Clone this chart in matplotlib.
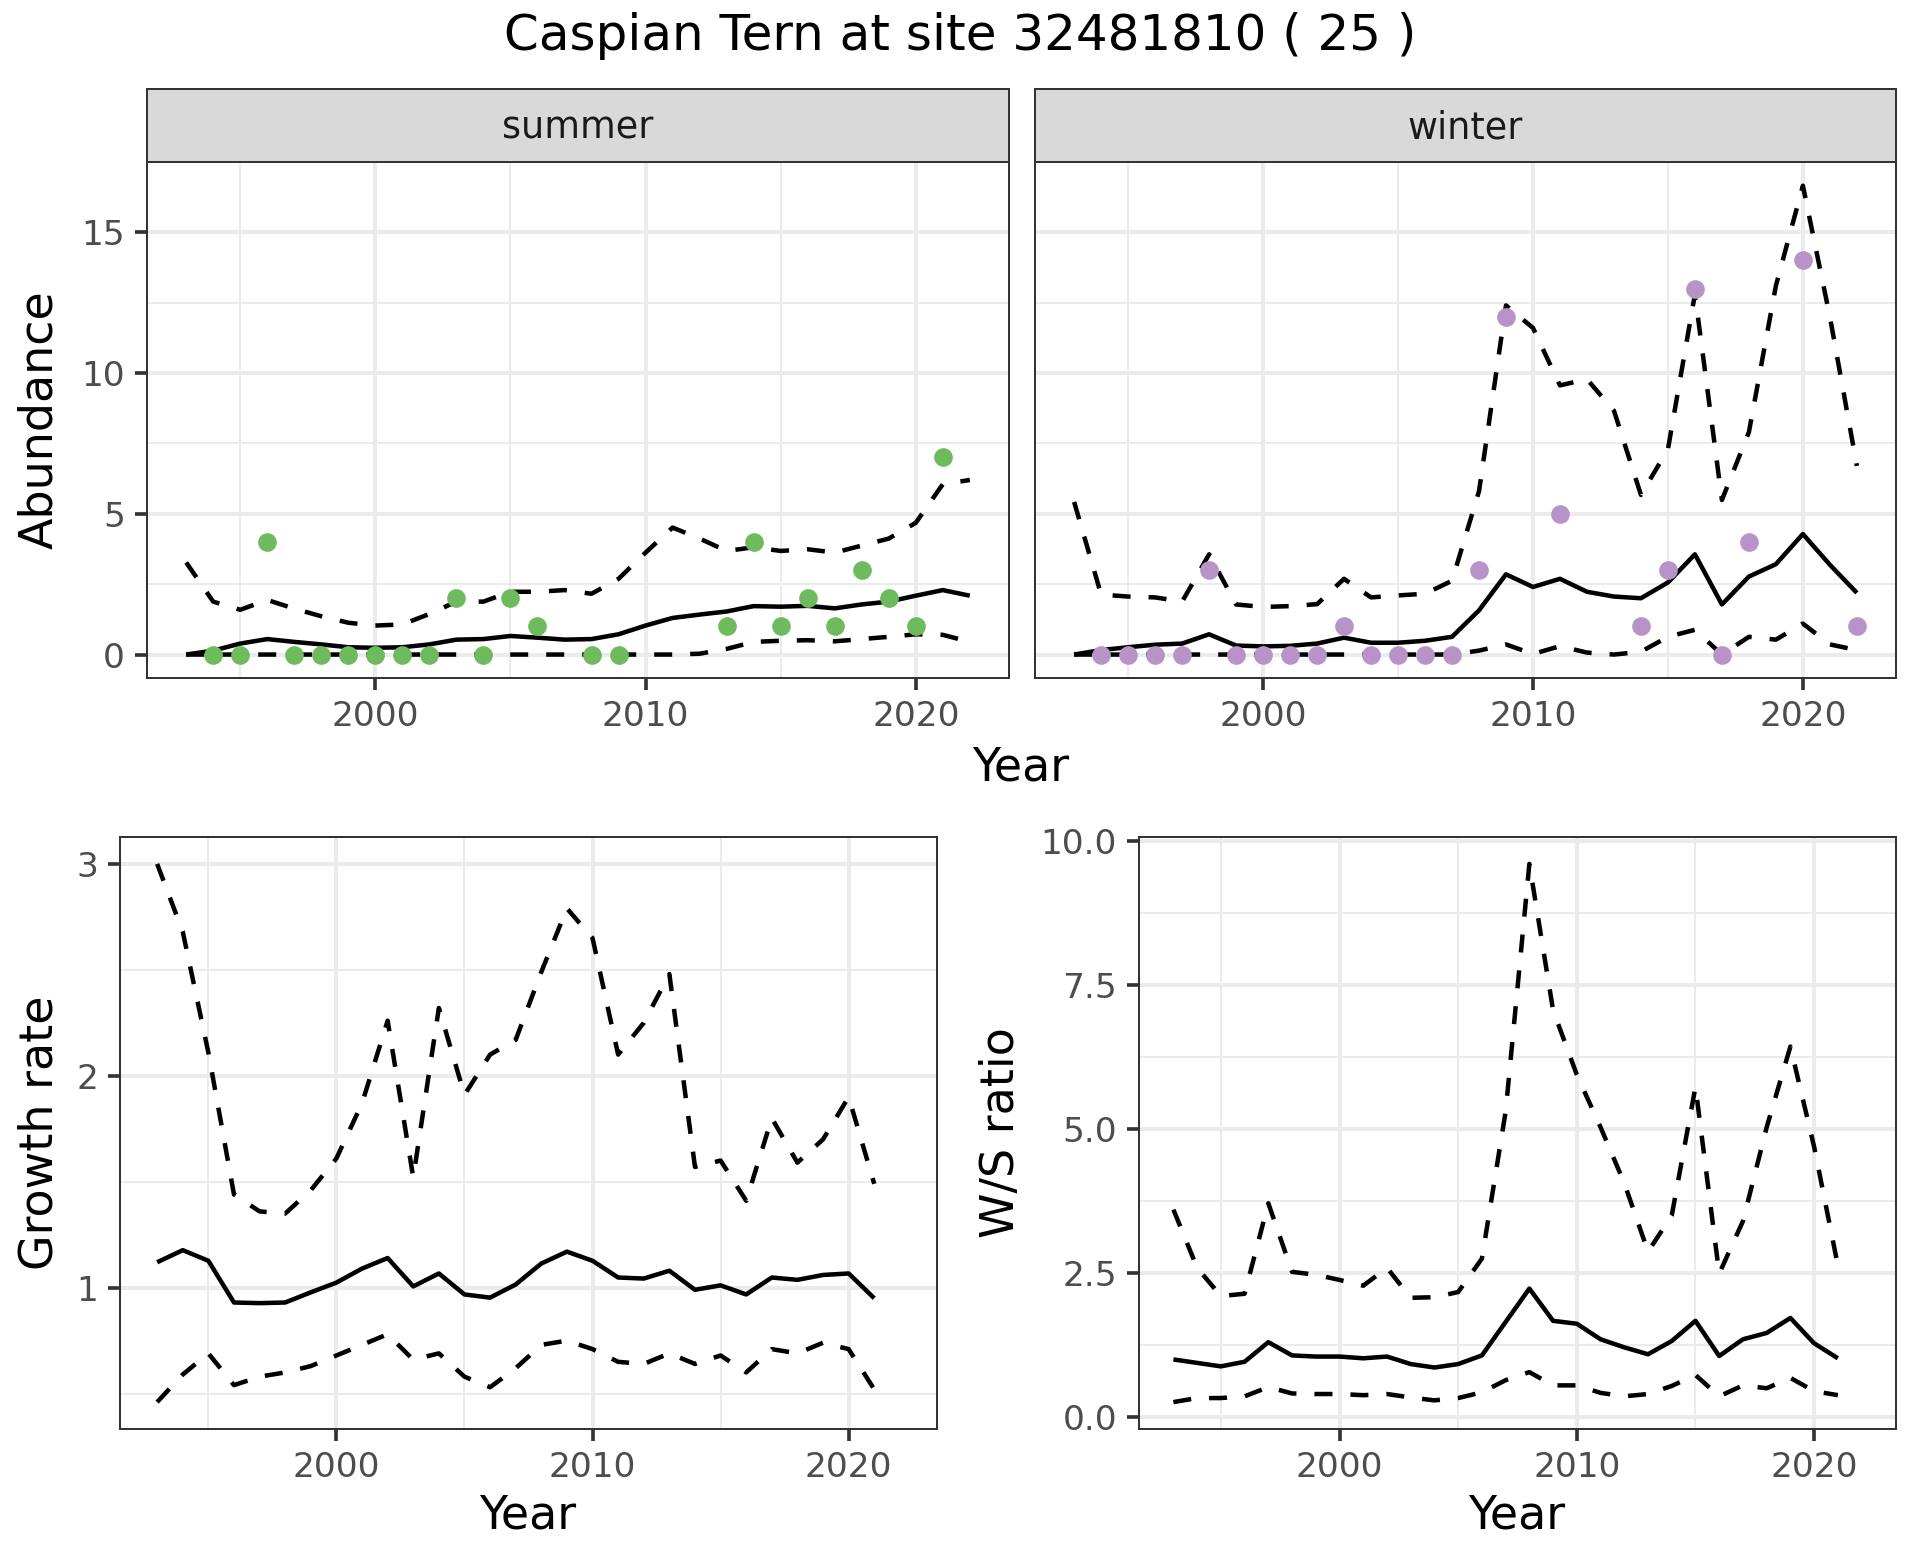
import matplotlib
matplotlib.use("Agg")
import matplotlib.pyplot as plt
import numpy as np

plt.rcParams['font.family'] = ['DejaVu Sans']

# ---------------- data ----------------
years_top = list(range(1993, 2023))
years_bot = list(range(1993, 2022))

summer_obs_years = [1994, 1995, 1996, 1997, 1998, 1999, 2000, 2001, 2002, 2003, 2004, 2005,
                    2006, 2008, 2009, 2013, 2014, 2015, 2016, 2017, 2018, 2019, 2020, 2021]
summer_obs = [0, 0, 4, 0, 0, 0, 0, 0, 0, 2, 0, 2, 1, 0, 0, 1, 4, 1, 2, 1, 3, 2, 1, 7]

winter_obs_years = [1994, 1995, 1996, 1997, 1998, 1999, 2000, 2001, 2002, 2003, 2004, 2005,
                    2006, 2007, 2008, 2009, 2011, 2014, 2015, 2016, 2017, 2018, 2020, 2022]
winter_obs = [0, 0, 0, 0, 3, 0, 0, 0, 0, 1, 0, 0, 0, 0, 3, 12, 5, 1, 3, 13, 0, 4, 14, 1]

summer_mean = [0, 0.14, 0.39, 0.55, 0.45, 0.36, 0.26, 0.24, 0.26, 0.36, 0.53, 0.55, 0.66, 0.6,
               0.53, 0.55, 0.72, 1.03, 1.3, 1.42, 1.53, 1.72, 1.7, 1.73, 1.64, 1.78, 1.88, 2.09,
               2.29, 2.09]
summer_upper = [3.27, 1.88, 1.59, 1.94, 1.63, 1.36, 1.13, 1.03, 1.07, 1.44, 1.88, 1.88, 2.23,
                2.23, 2.29, 2.16, 2.69, 3.62, 4.51, 4.12, 3.68, 3.81, 3.68, 3.74, 3.62, 3.87,
                4.12, 4.68, 6.05, 6.2]
summer_lower = [0, 0, 0, 0, 0, 0, 0, 0, 0, 0, 0, 0, 0, 0, 0, 0, 0, 0, 0, 0.03, 0.2, 0.45,
                0.49, 0.51, 0.47, 0.55, 0.63, 0.72, 0.7, 0.45]

winter_mean = [0, 0.16, 0.26, 0.35, 0.39, 0.72, 0.32, 0.29, 0.31, 0.39, 0.6, 0.42, 0.42, 0.49,
               0.63, 1.57, 2.85, 2.4, 2.69, 2.23, 2.06, 2.0, 2.56, 3.56, 1.78, 2.77, 3.21, 4.28,
               3.19, 2.19]
winter_upper = [5.42, 2.13, 2.06, 2.03, 1.88, 3.56, 1.78, 1.69, 1.72, 1.79, 2.69, 2.03, 2.1,
                2.16, 2.62, 5.8, 12.4, 11.6, 9.56, 9.78, 8.66, 5.67, 7.29, 12.8, 5.49, 7.9,
                13.1, 16.65, 12.0, 6.7]
winter_lower = [0, 0, 0, 0, 0, 0, 0, 0, 0, 0, 0, 0, 0, 0, 0, 0.14, 0.36, 0.02, 0.3, 0.07, 0.0,
                0.1, 0.63, 0.88, 0.0, 0.63, 0.53, 1.1, 0.36, 0.16]

growth_mean = [1.12, 1.177, 1.127, 0.93, 0.927, 0.93, 0.978, 1.024, 1.09, 1.14, 1.006, 1.067,
               0.968, 0.953, 1.015, 1.114, 1.17, 1.127, 1.048, 1.043, 1.08, 0.99, 1.011, 0.968,
               1.048, 1.037, 1.06, 1.067, 0.95]
growth_upper = [3.0, 2.68, 2.11, 1.44, 1.36, 1.35, 1.46, 1.61, 1.87, 2.26, 1.52, 2.32, 1.91,
                2.1, 2.17, 2.49, 2.79, 2.65, 2.1, 2.25, 2.48, 1.57, 1.6, 1.41, 1.8, 1.59, 1.7,
                1.9, 1.49]
growth_lower = [0.46, 0.59, 0.69, 0.54, 0.58, 0.6, 0.63, 0.68, 0.73, 0.78, 0.66, 0.69, 0.58,
                0.53, 0.62, 0.73, 0.75, 0.71, 0.65, 0.64, 0.69, 0.64, 0.68, 0.6, 0.71, 0.69,
                0.74, 0.71, 0.52]

ws_mean = [1.0, 0.94, 0.88, 0.96, 1.3, 1.07, 1.05, 1.05, 1.02, 1.05, 0.92, 0.86, 0.92, 1.07,
           1.65, 2.23, 1.67, 1.62, 1.35, 1.21, 1.09, 1.32, 1.67, 1.06, 1.35, 1.46, 1.72, 1.28,
           1.02]
ws_upper = [3.6, 2.59, 2.1, 2.14, 3.71, 2.52, 2.47, 2.38, 2.28, 2.59, 2.07, 2.08, 2.17, 2.75,
            5.3, 9.6, 7.06, 5.94, 5.03, 4.06, 2.87, 3.5, 5.73, 2.49, 3.4, 5.03, 6.43, 4.69, 2.63]
ws_lower = [0.26, 0.33, 0.33, 0.36, 0.52, 0.41, 0.4, 0.4, 0.38, 0.4, 0.34, 0.29, 0.33, 0.43,
            0.64, 0.78, 0.55, 0.55, 0.42, 0.36, 0.4, 0.54, 0.73, 0.36, 0.55, 0.5, 0.68, 0.45,
            0.38]

title = "Caspian Tern at site 32481810 ( 25 )"
facet_labels = ["summer", "winter"]
green = "#6DBB5D"
purple = "#B793C8"

# ---------------- style ----------------
W, H = 1920, 1560
DPI = 240
fig = plt.figure(figsize=(W / DPI, H / DPI), dpi=DPI)
fig.patch.set_facecolor("white")

TICK_FS = 10.3
AXT_FS = 13.8
STRIP_FS = 11.0
TITLE_FS = 15.0
LW = 1.35
BORDER = "#333333"
GRID = "#EBEBEB"
TICKCOL = "#4D4D4D"


def px_axes(x0, y0, x1, y1):
    return fig.add_axes([x0 / W, 1 - y1 / H, (x1 - x0) / W, (y1 - y0) / H])


def expand(vals_min, vals_max):
    r = vals_max - vals_min
    return vals_min - 0.05 * r, vals_max + 0.05 * r


def style(ax, ylim, yticks, yminor, ylabels, show_ylabels=True):
    ax.set_xlim(1991.55, 2023.45)
    ax.set_ylim(*ylim)
    ax.set_xticks([2000, 2010, 2020])
    ax.set_xticklabels(["2000", "2010", "2020"])
    ax.set_xticks([1995, 2005, 2015], minor=True)
    ax.set_yticks(yticks)
    ax.set_yticks(yminor, minor=True)
    if show_ylabels:
        ax.set_yticklabels(ylabels)
    else:
        ax.set_yticklabels([])
    ax.grid(True, which="major", color=GRID, linewidth=1.2, zorder=0)
    ax.grid(True, which="minor", color=GRID, linewidth=0.6, zorder=0)
    ax.set_axisbelow(True)
    for s in ax.spines.values():
        s.set_color(BORDER)
        s.set_linewidth(0.6)
    ax.tick_params(which="major", length=3.6, width=1.1, color=BORDER, labelsize=TICK_FS,
                   labelcolor=TICKCOL, pad=3.0)
    ax.tick_params(which="minor", length=0)
    if not show_ylabels:
        ax.tick_params(axis="y", which="major", length=0)


def draw_bands(ax, x, mean, lo, hi):
    ax.plot(x, mean, color="black", lw=LW, solid_capstyle="butt", zorder=3)
    ax.plot(x, hi, color="black", lw=LW, ls=(0, (4, 4)), zorder=3)
    ax.plot(x, lo, color="black", lw=LW, ls=(0, (4, 4)), zorder=3)


# ---------------- top row ----------------
top_min = min(min(summer_lower), min(winter_lower), min(summer_obs), min(winter_obs))
top_max = max(max(summer_upper), max(winter_upper), max(summer_obs), max(winter_obs))
ylim_top = expand(top_min, top_max)

panels = [
    (147, 1009, summer_mean, summer_lower, summer_upper, summer_obs_years, summer_obs, green, True),
    (1035, 1896, winter_mean, winter_lower, winter_upper, winter_obs_years, winter_obs, purple, False),
]
for i, (x0, x1, m, lo, hi, oy, ov, col, showy) in enumerate(panels):
    ax = px_axes(x0, 162.3, x1, 678)
    style(ax, ylim_top, [0, 5, 10, 15], [2.5, 7.5, 12.5], ["0", "5", "10", "15"], showy)
    draw_bands(ax, years_top, m, lo, hi)
    ax.plot(oy, ov, ls="none", marker="o", ms=5.6, mfc=col, mec="none", zorder=4)
    # strip
    sax = px_axes(x0, 89.3, x1, 162.3)
    sax.set_xticks([])
    sax.set_yticks([])
    sax.set_facecolor("#D9D9D9")
    for s in sax.spines.values():
        s.set_color(BORDER)
        s.set_linewidth(0.6)
    sax.text(0.5, 0.47, facet_labels[i], ha="center", va="center", fontsize=STRIP_FS,
             color="#1A1A1A", transform=sax.transAxes)

fig.text(960 / W, 1 - 36 / H, title, ha="center", va="center", fontsize=TITLE_FS)
fig.text(1021 / W, 1 - 768 / H, "Year", ha="center", va="center", fontsize=AXT_FS)
fig.text(40 / W, 1 - 420 / H, "Abundance", ha="center", va="center", rotation=90,
         fontsize=AXT_FS)

# ---------------- bottom row ----------------
axg = px_axes(120, 837, 937, 1429)
ylim_g = expand(min(growth_lower), max(growth_upper))
style(axg, ylim_g, [1, 2, 3], [0.5, 1.5, 2.5], ["1", "2", "3"])
draw_bands(axg, years_bot, growth_mean, growth_lower, growth_upper)
fig.text(528 / W, 1 - 1516 / H, "Year", ha="center", va="center", fontsize=AXT_FS)
fig.text(40 / W, 1 - 1133 / H, "Growth rate", ha="center", va="center", rotation=90,
         fontsize=AXT_FS)

axw = px_axes(1139, 837, 1896, 1429)
ylim_w = expand(min(ws_lower), max(ws_upper))
style(axw, ylim_w, [0, 2.5, 5, 7.5, 10], [1.25, 3.75, 6.25, 8.75],
      ["0.0", "2.5", "5.0", "7.5", "10.0"])
draw_bands(axw, years_bot, ws_mean, ws_lower, ws_upper)
fig.text(1517 / W, 1 - 1516 / H, "Year", ha="center", va="center", fontsize=AXT_FS)
fig.text(1002 / W, 1 - 1133 / H, "W/S ratio", ha="center", va="center", rotation=90,
         fontsize=AXT_FS)

fig.savefig("out.png", dpi=DPI, facecolor="white")
